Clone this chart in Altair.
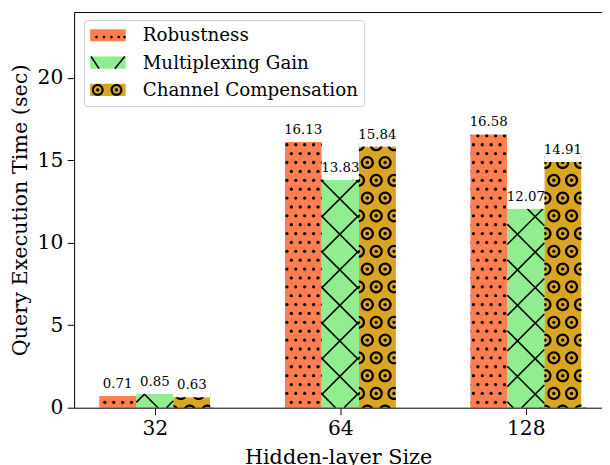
import json
import altair as alt
import pandas as pd

# ---------------- data ----------------
sizes = ["32", "64", "128"]
series_names = ["Robustness", "Multiplexing Gain", "Channel Compensation"]
robustness = [0.71, 16.13, 16.58]
multiplexing_gain = [0.85, 13.83, 12.07]
channel_compensation = [0.63, 15.84, 14.91]
colors = ["#FF7F50", "#90EE90", "#DAA520"]
y_ticks = [0, 5, 10, 15, 20]
y_max = 24

# -------------- layout ---------------
FONT = "DejaVu Serif"
W, H = 535, 401
PXX = 188.0                 # px per x unit
X_MIN = -0.435
X_MAX = X_MIN + W / PXX
PXY = H / y_max             # px per y unit
BW = 0.2                    # bar width (x units)

rows = []
for si, vals in enumerate([robustness, multiplexing_gain, channel_compensation]):
    for gi, v in enumerate(vals):
        rows.append({"size": sizes[gi], "gi": gi, "series": series_names[si], "si": si, "value": v})
df = pd.DataFrame(rows)

# separate (invisible-label) domain for the hatch legend overlay
pattern_names = [s + " " for s in series_names]


def circ(cx, cy, r, sweep):
    return (f"M{cx - r:.3f},{cy:.3f}A{r:.3f},{r:.3f},0,1,{sweep},{cx + r:.3f},{cy:.3f}"
            f"A{r:.3f},{r:.3f},0,1,{sweep},{cx - r:.3f},{cy:.3f}Z")


def ring(cx, cy, ro, ri, rd):
    return circ(cx, cy, ro, 1) + circ(cx, cy, ri, 0) + circ(cx, cy, rd, 1)


def seg(x1, y1, x2, y2, w):
    dx, dy = x2 - x1, y2 - y1
    n = (dx * dx + dy * dy) ** 0.5
    ox, oy = -dy / n * w / 2, dx / n * w / 2
    return (f"M{x1 + ox:.3f},{y1 + oy:.3f}L{x2 + ox:.3f},{y2 + oy:.3f}"
            f"L{x2 - ox:.3f},{y2 - oy:.3f}L{x1 - ox:.3f},{y1 - oy:.3f}Z")


# chart pattern shapes (size=4 -> path units are pixels)
RING = ring(0, 0, 6.7, 4.4, 1.7)

# legend shapes (size=4 -> pixels), patch 36 x 12.3, centre shifted by SX
PH = 6.15
SX = -8
LEG_RECT = f"M{-18 + SX},{-PH}H{18 + SX}V{PH}H{-18 + SX}Z"
LEG_DOTS = "".join(circ(x + SX, 1.8, 1.4, 1) for x in [-11.5, -4.0, 3.5, 11.0, 16.8])
LEG_X = seg(-17 + SX, -PH, -9 + SX, PH, 1.6) + seg(7 + SX, PH, 17 + SX, -PH, 1.6)
LEG_CIRC = ring(-10.3 + SX, 0, 6.0, 3.9, 1.6) + ring(8.7 + SX, 0, 6.0, 3.9, 1.6)

xs = alt.Scale(domain=[X_MIN, X_MAX], nice=False, zero=False)
ys = alt.Scale(domain=[0, y_max], nice=False, zero=True)

axis_common = dict(domainColor="black", domainWidth=1, tickColor="black", tickWidth=1,
                   tickSize=7, labelColor="black", titleColor="black", labelFont=FONT,
                   titleFont=FONT, labelFontSize=20.5, titleFontSize=21,
                   titleFontWeight="normal", grid=False, zindex=1)
xaxis = alt.Axis(values=[0, 1, 2], labelExpr=f"{json.dumps(sizes)}[datum.value]",
                 title="Hidden-layer Size", labelPadding=4, titlePadding=8, **axis_common)
yaxis = alt.Axis(values=y_ticks, title="Query Execution Time (sec)", labelPadding=4.5,
                 titlePadding=7, **axis_common)


def X(f):
    return alt.X(f, type="quantitative", scale=xs, axis=xaxis)


def Y(f):
    return alt.Y(f, type="quantitative", scale=ys, axis=yaxis)


base = (alt.Chart(df)
        .transform_calculate(xc=f"datum.gi + (datum.si - 1) * {BW}")
        .transform_calculate(xl=f"datum.xc - {BW / 2}", xr=f"datum.xc + {BW / 2}")
        .transform_calculate(ul=f"datum.xl * {PXX}", ur=f"datum.xr * {PXX}",
                             V=f"datum.value * {PXY}", ylo="0", yhi=f"{y_max}"))

bars = base.mark_rect().encode(
    x=X("xl"), x2="xr:Q", y=Y("value"), y2="ylo:Q",
    color=alt.Color("series:N", scale=alt.Scale(domain=series_names, range=colors),
                    legend=alt.Legend(title=None, symbolType=LEG_RECT, fillColor="white",
                                      strokeColor="#cccccc", cornerRadius=3, zindex=1)),
)

# dots (Robustness)
D, DU0, DV0 = 9.0, 3.4, 5.5
dots = (base.transform_filter("datum.si == 0")
        .transform_calculate(rows_=f"sequence(0, ceil((datum.V - {DV0}) / {D}) + 2)")
        .transform_flatten(["rows_"], as_=["row"])
        .transform_calculate(cols_=f"sequence(floor((datum.ul - {DU0} - {D}) / {D}), ceil((datum.ur - {DU0}) / {D}) + 1)")
        .transform_flatten(["cols_"], as_=["col"])
        .transform_calculate(pu=f"{DU0} + datum.col * {D} + (datum.row % 2) * {D / 2}",
                             pv=f"{DV0} + datum.row * {D}")
        .transform_filter("datum.pu >= datum.ul - 1.5 && datum.pu <= datum.ur + 1.5 && datum.pv <= datum.V + 1.5")
        .transform_calculate(px=f"datum.pu / {PXX}", py=f"datum.pv / {PXY}")
        .mark_circle(size=11, color="black", opacity=1, clip=True)
        .encode(x=X("px"), y=Y("py")))

# ringed circles (Channel Compensation)
C, CU0, CV0, CR = 18.0, -0.6, -3.5, 6.7
circles = (base.transform_filter("datum.si == 2")
           .transform_calculate(rows_=f"sequence(0, ceil((datum.V - {CV0}) / {C}) + 2)")
           .transform_flatten(["rows_"], as_=["row"])
           .transform_calculate(cols_=f"sequence(floor((datum.ul - {CU0} - {C}) / {C}), ceil((datum.ur - {CU0}) / {C}) + 2)")
           .transform_flatten(["cols_"], as_=["col"])
           .transform_calculate(pu=f"{CU0} + datum.col * {C} + (datum.row % 2) * {C / 2}",
                                pv=f"{CV0} + datum.row * {C}")
           .transform_filter(f"datum.pu >= datum.ul - {CR} && datum.pu <= datum.ur + {CR} && datum.pv <= datum.V + {CR}")
           .transform_calculate(px=f"datum.pu / {PXX}", py=f"datum.pv / {PXY}")
           .mark_point(shape=RING, size=4, filled=True, color="black", opacity=1,
                       strokeWidth=0, clip=True)
           .encode(x=X("px"), y=Y("py")))

# green bars redrawn on top of neighbour overhangs
gbars = base.transform_filter("datum.si == 1").mark_rect(color=colors[1]).encode(
    x=X("xl"), x2="xr:Q", y=Y("value"), y2="ylo:Q")

# X hatch (Multiplexing Gain): clipped diagonal segments
XP, C0, D0 = 36.0, 24.2, 3.2
ne = (base.transform_filter("datum.si == 1")
      .transform_calculate(ks=f"sequence(floor((-datum.ur - {C0}) / {XP}), ceil((datum.V - datum.ul - {C0}) / {XP}) + 1)")
      .transform_flatten(["ks"], as_=["k"])
      .transform_calculate(c=f"{C0} + datum.k * {XP}")
      .transform_calculate(u1="max(datum.ul, -datum.c)", u2="min(datum.ur, datum.V - datum.c)")
      .transform_filter("datum.u2 > datum.u1")
      .transform_calculate(sx1=f"datum.u1 / {PXX}", sx2=f"datum.u2 / {PXX}",
                           sy1=f"(datum.u1 + datum.c) / {PXY}", sy2=f"(datum.u2 + datum.c) / {PXY}")
      .mark_rule(color="black", strokeWidth=1.6, clip=True)
      .encode(x=X("sx1"), x2="sx2:Q", y=Y("sy1"), y2="sy2:Q"))
se = (base.transform_filter("datum.si == 1")
      .transform_calculate(ms=f"sequence(floor((datum.ul - {D0}) / {XP}), ceil((datum.ur + datum.V - {D0}) / {XP}) + 1)")
      .transform_flatten(["ms"], as_=["m"])
      .transform_calculate(d=f"{D0} + datum.m * {XP}")
      .transform_calculate(u1="max(datum.ul, datum.d - datum.V)", u2="min(datum.ur, datum.d)")
      .transform_filter("datum.u2 > datum.u1")
      .transform_calculate(sx1=f"datum.u1 / {PXX}", sx2=f"datum.u2 / {PXX}",
                           sy1=f"(datum.d - datum.u1) / {PXY}", sy2=f"(datum.d - datum.u2) / {PXY}")
      .mark_rule(color="black", strokeWidth=1.6, clip=True)
      .encode(x=X("sx1"), x2="sx2:Q", y=Y("sy1"), y2="sy2:Q"))

# white masks that clip the hatch to the bars
mask_left = (base.transform_filter("datum.si == 0")
             .transform_calculate(m1="datum.xl - 0.4")
             .mark_rect(color="white", clip=True)
             .encode(x=X("m1"), x2="xl:Q", y=Y("ylo"), y2="yhi:Q"))
mask_right = (base.transform_filter("datum.si == 2")
              .transform_calculate(m2="datum.xr + 0.4")
              .mark_rect(color="white", clip=True)
              .encode(x=X("xr"), x2="m2:Q", y=Y("ylo"), y2="yhi:Q"))
mask_top = (base.mark_rect(color="white", clip=True)
            .encode(x=X("xl"), x2="xr:Q", y=Y("value"), y2="yhi:Q"))

labels = base.mark_text(font=FONT, fontSize=13.5, color="black", baseline="alphabetic",
                        dy=-8).encode(x=X("xc"), y=Y("value"),
                                      text=alt.Text("value:Q", format=".2f"))

main = alt.layer(bars, dots, circles, gbars, ne, se, mask_left, mask_right, mask_top, labels)

# empty layer: top frame line + hatch legend overlay
extra = (base.transform_filter("false")
         .transform_calculate(series_p="datum.series + ' '")
         .mark_point(filled=True, color="black")
         .encode(
             x=alt.X("xc:Q", scale=xs,
                     axis=alt.Axis(orient="top", labels=False, ticks=False, title="",
                                   domainColor="black", domainWidth=1, grid=False, zindex=1)),
             shape=alt.Shape("series_p:N",
                             scale=alt.Scale(domain=pattern_names,
                                             range=[LEG_DOTS, LEG_X, LEG_CIRC]),
                             legend=alt.Legend(title=None, labelOpacity=0, zindex=2)),
         ))

chart = (alt.layer(main, extra)
         .resolve_axis(x="independent")
         .properties(width=W, height=H,
                     autosize=alt.AutoSizeParams(type="none"),
                     padding={"left": 67, "top": 1, "right": 0, "bottom": 56},
                     background="white")
         .configure_view(strokeWidth=0)
         .configure_legend(orient="none", legendX=10, legendY=8.3, padding=6,
                           rowPadding=8.7, symbolSize=4, symbolOffset=17, labelOffset=18,
                           labelFont=FONT, labelFontSize=18.5, labelColor="black",
                           labelLimit=400, symbolStrokeWidth=0, symbolOpacity=1))

chart.save("out.html", embed_options={"renderer": "svg", "actions": False})
